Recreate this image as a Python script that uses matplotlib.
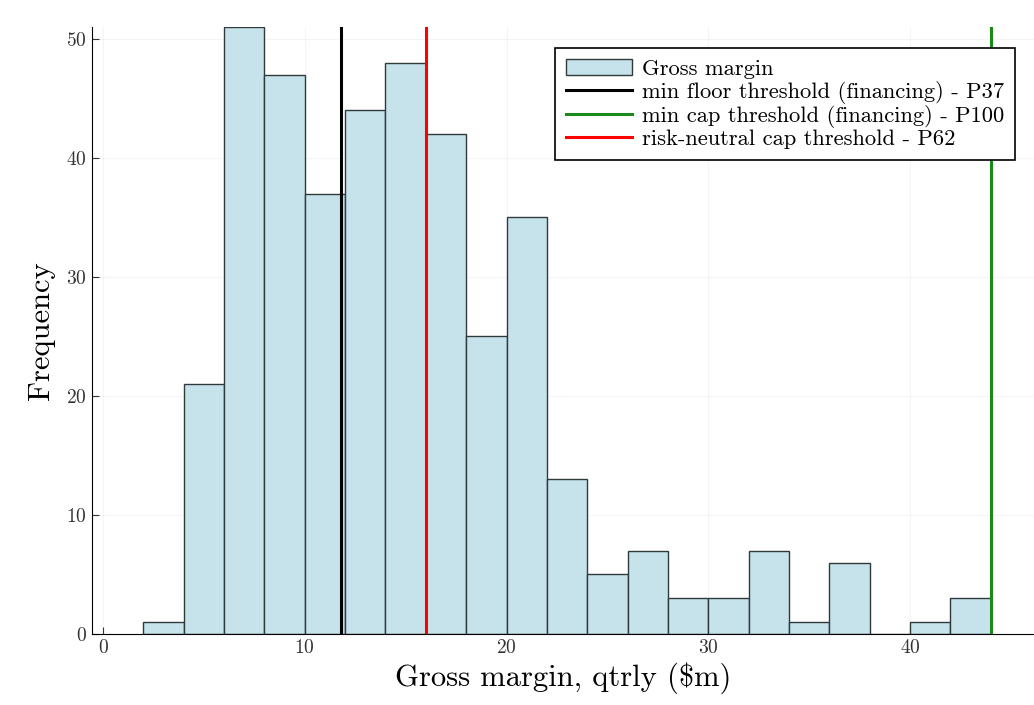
import matplotlib.pyplot as plt
import numpy as np

plt.rcParams['font.family'] = ['cmr10', 'DejaVu Serif']
plt.rcParams['mathtext.fontset'] = 'cm'
plt.rcParams['axes.formatter.use_mathtext'] = True

# histogram bins (width 2) and counts
bin_edges = np.arange(2, 46, 2)
counts = [1, 21, 51, 47, 37, 44, 48, 42, 25, 35, 13, 5, 7, 3, 3, 7, 1, 6, 0, 1, 3]

floor_p37 = 11.8
cap_p100 = 44.0
rn_cap_p62 = 16.0

fig = plt.figure(figsize=(10.34, 7.05), dpi=100)
ax = fig.add_axes([92 / 1034, 71 / 705, 1 - 92 / 1034, (634 - 27) / 705])

bars = ax.bar(bin_edges[:-1], counts, width=2, align='edge', color='#c6e2ea',
              edgecolor='#2f3a3d', linewidth=1.0, label='Gross margin')
l1 = ax.axvline(floor_p37, color='black', linewidth=2.2, label='min floor threshold (financing) - P37')
l2 = ax.axvline(cap_p100, color='#1a8a1a', linewidth=2.2, label='min cap threshold (financing) - P100')
l3 = ax.axvline(rn_cap_p62, color='#ff0000', linewidth=2.2, label='risk-neutral cap threshold - P62')

ax.set_xlim(-0.55, 46.15)
ax.set_ylim(0, 51)
ax.set_xticks([0, 10, 20, 30, 40])
ax.set_yticks([0, 10, 20, 30, 40, 50])
ax.grid(True, color='black', alpha=0.04, linewidth=0.8)
ax.set_axisbelow(True)
ax.spines['top'].set_visible(False)
ax.spines['right'].set_visible(False)
ax.tick_params(direction='in', length=5, labelsize=14, colors='#333333')

ax.set_xlabel(r'Gross margin, qtrly (\$m)', fontsize=22, labelpad=4)
ax.set_ylabel('Frequency', fontsize=22, labelpad=8)

leg = ax.legend([bars, l1, l2, l3], [bars.get_label(), l1.get_label(), l2.get_label(), l3.get_label()],
                loc='upper right', bbox_to_anchor=(0.980, 0.965), borderaxespad=0, fontsize=16.2,
                frameon=True, fancybox=False, edgecolor='black', framealpha=1,
                handlelength=2.9, handletextpad=0.45, borderpad=0.5, labelspacing=0.06)
leg.get_frame().set_linewidth(1.2)

fig.savefig('out.png', dpi=100)
